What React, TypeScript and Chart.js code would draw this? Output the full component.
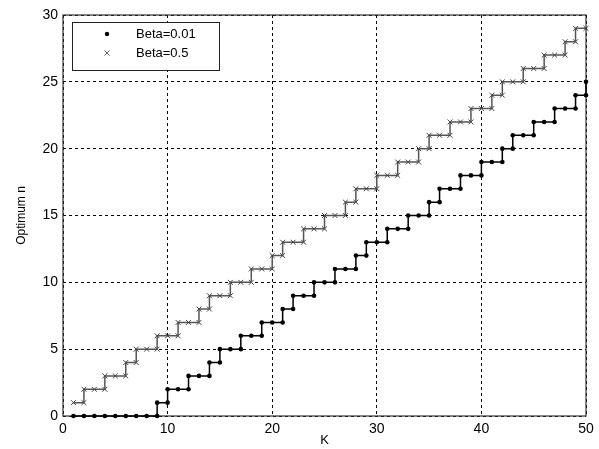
import React, { useEffect, useRef } from "react";
import { Chart, registerables } from "chart.js";

Chart.register(...registerables);

const K = [1, 2, 3, 4, 5, 6, 7, 8, 9, 10, 11, 12, 13, 14, 15, 16, 17, 18, 19, 20, 21, 22, 23, 24, 25, 26, 27, 28, 29, 30, 31, 32, 33, 34, 35, 36, 37, 38, 39, 40, 41, 42, 43, 44, 45, 46, 47, 48, 49, 50];

const beta001 = [0, 0, 0, 0, 0, 0, 0, 0, 1, 2, 2, 3, 3, 4, 5, 5, 6, 6, 7, 7, 8, 9, 9, 10, 10, 11, 11, 12, 13, 13, 14, 14, 15, 15, 16, 17, 17, 18, 18, 19, 19, 20, 21, 21, 22, 22, 23, 23, 24, 25];

const beta05 = [1, 2, 2, 3, 3, 4, 5, 5, 6, 6, 7, 7, 8, 9, 9, 10, 10, 11, 11, 12, 13, 13, 14, 14, 15, 15, 16, 17, 17, 18, 18, 19, 19, 20, 21, 21, 22, 22, 23, 23, 24, 25, 25, 26, 26, 27, 27, 28, 29, 29];

const seriesLabels = ["Beta=0.01", "Beta=0.5"];
const xTitle = "K";
const yTitle = "Optimum n";

const FONT = "'Liberation Sans', Arial, sans-serif";

const toPoints = (ys: number[]) => K.map((k, i) => ({ x: k, y: ys[i] }));
// stair corners (old MATLAB stairs put markers at every vertex)
const corners = (ys: number[]) => {
  const out: { x: number; y: number }[] = [];
  for (let i = 1; i < ys.length; i++) {
    if (ys[i] !== ys[i - 1]) out.push({ x: K[i], y: ys[i - 1] });
  }
  return out;
};

const framePlugin = {
  id: "frame",
  beforeDatasetsDraw(chart: any) {
    const { ctx, chartArea } = chart;
    const { left, top, right, bottom } = chartArea;
    ctx.save();
    ctx.strokeStyle = "#333";
    ctx.lineWidth = 1.2;
    ctx.strokeRect(left, top, right - left, bottom - top);
    ctx.restore();
  },
};

const legendPlugin = {
  id: "boxLegend",
  afterDraw(chart: any) {
    const { ctx } = chart;
    const x0 = 72;
    const y0 = 22;
    const w = 147;
    const h = 48;
    ctx.save();
    ctx.fillStyle = "#fff";
    ctx.fillRect(x0, y0, w, h);
    ctx.strokeStyle = "#222";
    ctx.lineWidth = 1;
    ctx.strokeRect(x0 + 0.5, y0 + 0.5, w, h);
    const rows = [y0 + 12, y0 + 31];
    ctx.fillStyle = "#000";
    ctx.beginPath();
    ctx.arc(107, rows[0], 2.2, 0, Math.PI * 2);
    ctx.fill();
    ctx.strokeStyle = "#666";
    ctx.lineWidth = 1;
    const r = 2.6;
    ctx.beginPath();
    ctx.moveTo(107 - r, rows[1] - r);
    ctx.lineTo(107 + r, rows[1] + r);
    ctx.moveTo(107 - r, rows[1] + r);
    ctx.lineTo(107 + r, rows[1] - r);
    ctx.stroke();
    ctx.fillStyle = "#000";
    ctx.font = `13px ${FONT}`;
    ctx.textBaseline = "middle";
    ctx.textAlign = "left";
    ctx.fillText(seriesLabels[0], 136, rows[0]);
    ctx.fillText(seriesLabels[1], 136, rows[1]);
    ctx.restore();
  },
};

export default function App() {
  const ref = useRef<HTMLCanvasElement | null>(null);

  useEffect(() => {
    if (!ref.current) return;
    const chart = new Chart(ref.current, {
      type: "line",
      data: {
        datasets: [
          {
            label: seriesLabels[0],
            data: toPoints(beta001),
            stepped: "before",
            borderColor: "#000",
            borderWidth: 1.5,
            pointStyle: "circle",
            pointRadius: 2.3,
            pointBackgroundColor: "#000",
            pointBorderColor: "#000",
            pointBorderWidth: 0,
            clip: false,
            order: 2,
          },
          {
            label: seriesLabels[0] + " corners",
            data: corners(beta001),
            showLine: false,
            pointStyle: "circle",
            pointRadius: 2.3,
            pointBackgroundColor: "#000",
            pointBorderColor: "#000",
            pointBorderWidth: 0,
            clip: false,
            order: 2,
          },
          {
            label: seriesLabels[1],
            data: toPoints(beta05),
            stepped: "before",
            borderColor: "#555",
            borderWidth: 1.5,
            pointStyle: "crossRot",
            pointRadius: 3.5,
            pointBorderColor: "#444",
            pointBorderWidth: 1,
            clip: false,
            order: 1,
          },
          {
            label: seriesLabels[1] + " corners",
            data: corners(beta05),
            showLine: false,
            pointStyle: "crossRot",
            pointRadius: 3.5,
            pointBorderColor: "#444",
            pointBorderWidth: 1,
            clip: false,
            order: 1,
          },
        ],
      },
      options: {
        animation: false,
        responsive: false,
        layout: { padding: { left: 0, top: 15, right: 13, bottom: 0 } },
        plugins: {
          legend: { display: false },
          tooltip: { enabled: false },
        },
        scales: {
          x: {
            type: "linear",
            min: 0,
            max: 50,
            ticks: {
              stepSize: 10,
              color: "#000",
              padding: 5,
              font: { family: FONT, size: 14 },
              maxRotation: 0,
            },
            grid: { color: "#000", lineWidth: 1, drawTicks: false },
            border: { display: false, dash: [3, 3] },
            title: {
              display: true,
              text: xTitle,
              color: "#000",
              font: { family: FONT, size: 13 },
              padding: { top: 0, bottom: 1 },
            },
            afterFit: (s: any) => {
              s.height = 33;
            },
          },
          y: {
            min: 0,
            max: 30,
            ticks: {
              stepSize: 5,
              color: "#000",
              padding: 5,
              font: { family: FONT, size: 14 },
            },
            grid: { color: "#000", lineWidth: 1, drawTicks: false },
            border: { display: false, dash: [3, 3] },
            title: {
              display: true,
              text: yTitle,
              color: "#000",
              font: { family: FONT, size: 12 },
              padding: { top: 14, bottom: 0 },
            },
            afterFit: (s: any) => {
              s.width = 63;
            },
          },
        },
      },
      plugins: [framePlugin, legendPlugin],
    } as any);
    return () => chart.destroy();
  }, []);

  return (
    <div style={{ position: "absolute", left: 0, top: 0, width: 599, height: 449, background: "#fff" }}>
      <canvas ref={ref} width={599} height={449} />
    </div>
  );
}
